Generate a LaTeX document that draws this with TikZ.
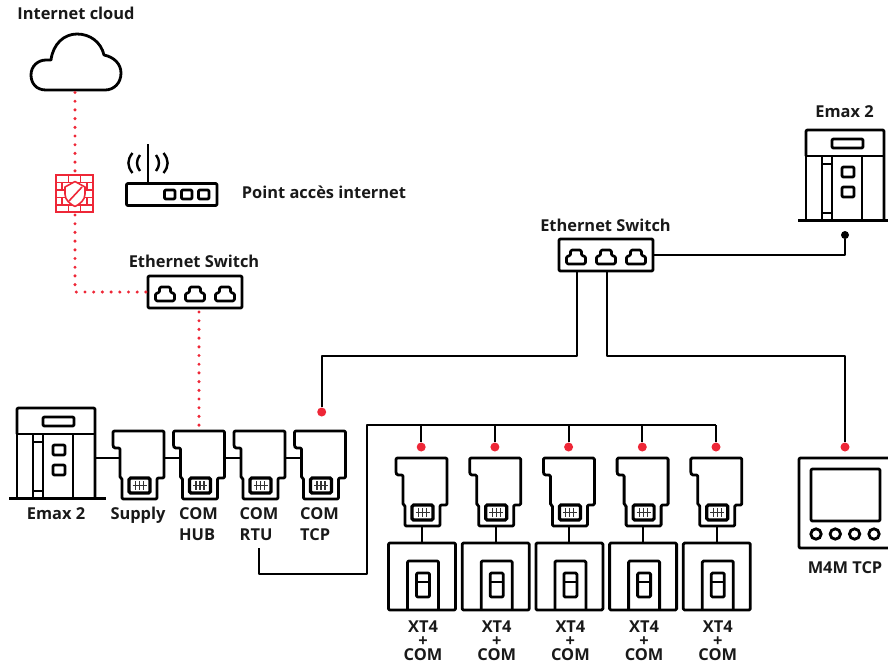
\documentclass[tikz,border=0pt]{standalone}
\usepackage{fontspec}
\setmainfont{Open Sans}
\definecolor{abbred}{HTML}{EE2737}
\tikzset{
  x=1pt,y=-1pt,
  thick3/.style={line width=2.8pt,line join=round,rounded corners=1.2pt,black},
  wire/.style={line width=2pt,black,line join=round},
  reddots/.style={abbred,line width=3.4pt,line cap=round,dash pattern=on 0pt off 8.7pt},
  lab/.style={font=\bfseries\fontsize{16.4}{17}\selectfont,inner sep=0pt,text=black!90},
  reddot/.style={circle,fill=abbred,inner sep=0pt,minimum size=9pt},
  blackdot/.style={circle,fill=black,inner sep=0pt,minimum size=8pt},
  emaxpic/.pic={
    \draw[thick3] (0,26)--(0,0)--(78,0)--(78,90);
    \draw[thick3] (0,26)--(0,90);
    \draw[thick3] (0,26)--(78,26);
    \draw[thick3] (26,9) rectangle (57,18);
    \draw[thick3] (16,26)--(16,90) (26,26)--(26,90) (56,26)--(56,90);
    \draw[thick3] (16,34)--(26,34) (16,83)--(26,83);
    \draw[thick3] (36,37) rectangle (48,47);
    \draw[thick3] (36,57) rectangle (48,67);
    \draw[line width=3pt,black] (-8,90)--(89,90);
    \coordinate (-bottom) at (39,90);
    \coordinate (-right) at (78,50);
  },
  modulepic/.pic={
    \draw[thick3] (0,0)--(51,0)--(51,47)--(44,47)--(44,68)--(9,68)--(9,47)--(7,47)--(7,17)--(1,17)--(0,15)--cycle;
    \draw[line width=3.2pt,black,rounded corners=1.5pt,fill=white] (16,47) rectangle (37,62);
    \draw[line width=1.1pt,black!80] (19.5,54.5)--(33.5,54.5) (22.5,50)--(22.5,59) (26.5,50)--(26.5,59) (30.5,50)--(30.5,59);
    \coordinate (-top) at (26,0);
    \coordinate (-left) at (7,27);
    \coordinate (-right) at (51,27);
    \coordinate (-bottom) at (26,68);
  },
  xtpic/.pic={
    \draw[thick3] (0,0) rectangle (67,67);
    \draw[thick3] (19,67)--(19,18)--(50,18)--(50,67);
    \draw[thick3] (28,30) rectangle (41,54);
    \draw[thick3] (28,39)--(41,39);
    \coordinate (-top) at (33.5,0);
  },
  switchpic/.pic={
    \draw[thick3] (0,0) rectangle (94,32);
    \foreach \c in {17,47,77}{
      \draw[line width=2.6pt,black,rounded corners=1.5pt,line join=round]
        (\c-9.5,25)--(\c-9.5,17)--(\c-5.5,17)--(\c-5.5,11)--(\c+5.5,11)--(\c+5.5,17)--(\c+9.5,17)--(\c+9.5,25)--cycle;
    }
    \coordinate (-left) at (0,16);
    \coordinate (-right) at (94,16);
    \coordinate (-bottom1) at (17.5,32);
    \coordinate (-bottom2) at (47.5,32);
  },
}
\begin{document}
\begin{tikzpicture}
\useasboundingbox (0,0) rectangle (888,665);

% cloud
\draw[line width=2.8pt,black,line join=round,fill=white]
  (46,90) .. controls (36,90) and (31,83) .. (31,75)
  .. controls (31,66) and (38,60) .. (46,60) -- (51,60)
  .. controls (53,44) and (64,34) .. (77,34)
  .. controls (90,34) and (101,42) .. (104,55)
  .. controls (114,57) and (121,64) .. (121,73)
  .. controls (121,83) and (114,90) .. (105,90) -- cycle;
\coordinate (cloudb) at (75,92.5);
\node[lab] (lcloud) at (76,13) {Internet cloud};

% firewall
\begin{scope}[abbred,line width=1.6pt]
  \draw (56,175) rectangle (93,212);
  \foreach \y in {182.5,190,197.5,205} \draw (56,\y)--(93,\y);
  \foreach \x in {68.5,80.5} \draw (\x,175)--(\x,182.5) (\x,205)--(\x,212);
  \foreach \x in {62,74.5,87} \draw (\x,182.5)--(\x,190) (\x,197.5)--(\x,205);
  \foreach \x in {68.5,80.5} \draw (\x,190)--(\x,197.5);
  \draw[fill=white,line join=round] (65,187)--(75,181.5)--(85,187)--(85,194)
     .. controls (85,200) and (80,204) .. (75,206.5)
     .. controls (70,204) and (65,200) .. (65,194) -- cycle;
  \draw (69,201)--(82,187);
\end{scope}
\coordinate (firet) at (75,171);
\coordinate (fireb) at (75,215);

% router
\draw[thick3] (126.5,183.5) rectangle (217,205.5);
\draw[line width=2.6pt,black] (148,144)--(148,183);
\foreach \x in {164.5,181.5,198.5} \draw[thick3] (\x,190) rectangle ++(10.5,9);
\draw[line width=2.4pt,black] (132.5,153) .. controls (127,160) and (127,166) .. (132.5,173);
\draw[line width=2.4pt,black] (140,155) .. controls (136,160) and (136,166) .. (140,171);
\draw[line width=2.4pt,black] (156,155) .. controls (160,160) and (160,166) .. (156,171);
\draw[line width=2.4pt,black] (163.5,153) .. controls (169,160) and (169,166) .. (163.5,173);
\node[lab] (lap) at (324,192) {Point accès internet};

% switches
\pic (swa) at (148,276) {switchpic};
\pic (swb) at (559,239) {switchpic};
\node[lab] (lswa) at (194,261) {Ethernet Switch};
\node[lab] (lswb) at (605.5,225) {Ethernet Switch};
\coordinate (hubdots) at (199,308);

% Emax
\pic (emaxr) at (806,130) {emaxpic};
\pic (emaxl) at (17,408) {emaxpic};
\node[lab] (lemaxr) at (844.5,111.7) {Emax 2};
\node[lab] (lemaxl) at (56,513.7) {Emax 2};

% top row modules
\pic (msup) at (113,431) {modulepic};
\pic (mhub) at (173.5,431) {modulepic};
\pic (mrtu) at (234,431) {modulepic};
\pic (mtcp) at (294.5,431) {modulepic};
\node[lab] (lsup) at (138,514.8) {Supply};
\node[lab,anchor=base west] (lhuba) at (179,519.3) {COM};
\node[lab,anchor=base west] (lhubb) at (179,540) {HUB};
\node[lab,anchor=base west] (lrtua) at (239.5,519.3) {COM};
\node[lab,anchor=base west] (lrtub) at (239.5,540) {RTU};
\node[lab,anchor=base west] (ltcpa) at (300,519.3) {COM};
\node[lab,anchor=base west] (ltcpb) at (300,540) {TCP};

\draw[wire] (emaxl-right |- 0,458) -- (msup-left |- 0,458);
\draw[wire] (msup-right) -- (mhub-left);
\draw[wire] (mhub-right) -- (mrtu-left);
\draw[wire] (mrtu-right) -- (mtcp-left);

% XT4 row
\foreach \n/\dx in {1/0,2/73.7,3/147.4,4/221.1,5/294.8}{
  \pic (mx\n) at (396+\dx,458) {modulepic};
  \pic (xt\n) at (388.5+\dx,543) {xtpic};
  \draw[wire] (mx\n-bottom) -- (mx\n-bottom |- xt\n-top);
  \node[reddot] (dx\n) at (421.2+\dx,447) {};
  \node[lab,align=center,font=\bfseries\fontsize{16.4}{14}\selectfont] (lx\n) at (423+\dx,640.8) {XT4\\+\\COM};
}
\coordinate (busa) at (259,548);
\coordinate (busb) at (367,574);
\coordinate (busc) at (367,425);
\draw[wire] (busa) |- (busb) -- (busc) -- (dx5 |- busc);
\foreach \n in {1,...,5} \draw[wire] (dx\n |- busc) -- (dx\n);

% M4M
\draw[thick3] (900,458) -- (799,458) -- (799,548) -- (900,548);
\draw[thick3] (811,469) rectangle (880,521);
\foreach \x in {816,835.3,854.6,874} \draw[line width=2.8pt,black] (\x,534) circle (5.2);
\node[reddot] (dm) at (845,447) {};
\node[lab] (lm) at (845,568) {M4M TCP};

% network wires
\node[reddot] (dtcp) at (321.7,412) {};
\coordinate (sjoin) at (0,356);
\draw[wire] (swb-bottom1) -- (swb-bottom1 |- sjoin) -| (dtcp);
\draw[wire] (swb-bottom2) -- (swb-bottom2 |- sjoin) -| (dm);
\node[blackdot] (der) at (845,235) {};
\draw[wire] (swb-right) -| (der);

% red dotted
\draw[reddots] (cloudb) -- (firet);
\draw[reddots] (fireb) -- (75,292) -- (swa-left);
\draw[reddots] (hubdots) ++(0,4) -- (199,426);
\end{tikzpicture}
\end{document}
